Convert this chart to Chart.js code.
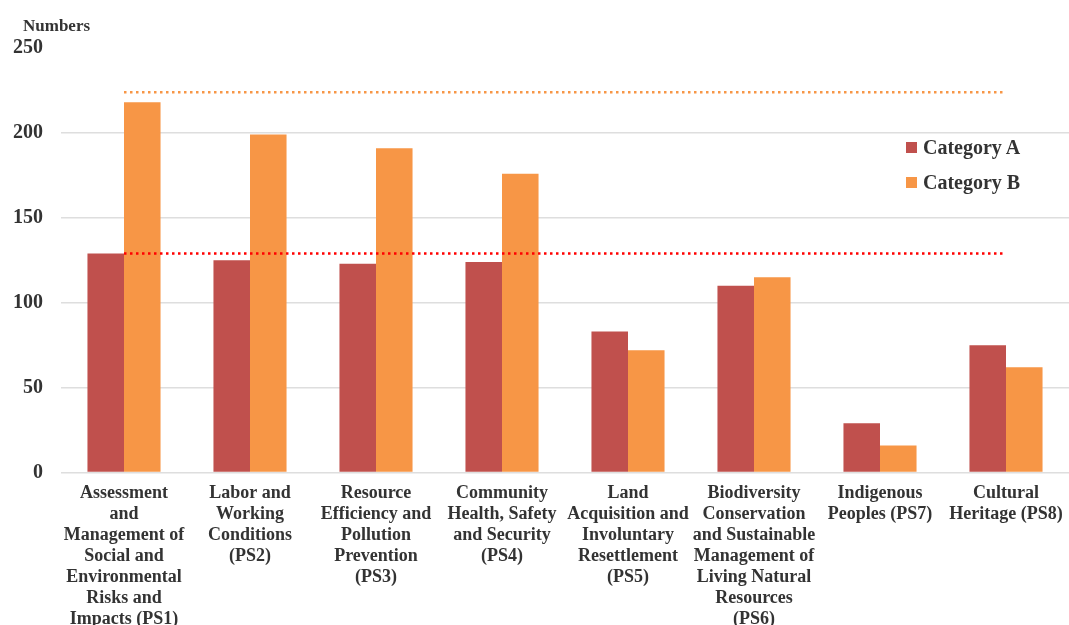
<!DOCTYPE html>
<html>
<head>
<meta charset="utf-8">
<script src="https://cdn.jsdelivr.net/npm/chart.js@4"></script>
<style>
  html, body { margin: 0; padding: 0; background: #fff; overflow: hidden; }
  #wrap { position: relative; width: 1069px; height: 640px; }
  #legend { position: absolute; left: 906px; top: 130px; font: bold 20px "Liberation Serif", serif; color: #333; }
  #legend div { display: flex; align-items: center; height: 35px; }
  #legend span { display: inline-block; width: 11px; height: 11px; margin-right: 6px; }
</style>
</head>
<body>
<div id="wrap">
  <canvas id="chart"></canvas>
  <div id="legend"></div>
</div>
<script>
const categories = [
  ["Assessment", "and", "Management of", "Social and", "Environmental", "Risks and", "Impacts (PS1)"],
  ["Labor and", "Working", "Conditions", "(PS2)"],
  ["Resource", "Efficiency and", "Pollution", "Prevention", "(PS3)"],
  ["Community", "Health, Safety", "and Security", "(PS4)"],
  ["Land", "Acquisition and", "Involuntary", "Resettlement", "(PS5)"],
  ["Biodiversity", "Conservation", "and Sustainable", "Management of", "Living Natural", "Resources", "(PS6)"],
  ["Indigenous", "Peoples (PS7)"],
  ["Cultural", "Heritage (PS8)"]
];
const categoryA = [129, 125, 123, 124, 83, 110, 29, 75];
const categoryB = [218, 199, 191, 176, 72, 115, 16, 62];
const upperLine = [224, 224, 224, 224, 224, 224, 224, 224];
const lowerLine = [129, 129, 129, 129, 129, 129, 129, 129];
const yTicks = [0, 50, 100, 150, 200, 250];

const COLOR_A = '#C0504D';
const COLOR_B = '#F79646';
const TEXT = '#333333';

const legendBox = document.getElementById('legend');
[['Category A', COLOR_A], ['Category B', COLOR_B]].forEach(([name, color]) => {
  const row = document.createElement('div');
  row.innerHTML = `<span style="background:${color}"></span>${name}`;
  legendBox.appendChild(row);
});

// "Numbers" caption above the y axis
const axisCaption = {
  id: 'axisCaption',
  afterDraw(chart) {
    const ctx = chart.ctx;
    ctx.save();
    ctx.font = 'bold 17px "Liberation Serif", serif';
    ctx.fillStyle = TEXT;
    ctx.textBaseline = 'middle';
    ctx.fillText('Numbers', 23, chart.chartArea.top - 21);
    ctx.restore();
  }
};

new Chart(document.getElementById('chart'), {
  type: 'bar',
  data: {
    labels: categories,
    datasets: [
      {
        label: 'Upper',
        type: 'line',
        data: upperLine,
        borderColor: COLOR_B,
        borderWidth: 2.5,
        borderDash: [2.5, 3.5],
        pointRadius: 0,
        fill: false,
        order: 0
      },
      {
        label: 'Lower',
        type: 'line',
        data: lowerLine,
        borderColor: '#FF0000',
        borderWidth: 2.5,
        borderDash: [2.5, 3.5],
        pointRadius: 0,
        fill: false,
        order: 0
      },
      {
        label: 'Category A',
        data: categoryA,
        backgroundColor: COLOR_A,
        categoryPercentage: 0.58,
        barPercentage: 1.0,
        order: 1
      },
      {
        label: 'Category B',
        data: categoryB,
        backgroundColor: COLOR_B,
        categoryPercentage: 0.58,
        barPercentage: 1.0,
        order: 1
      }
    ]
  },
  options: {
    responsive: true,
    maintainAspectRatio: false,
    animation: false,
    layout: { padding: { top: 48, left: 13, right: 0, bottom: 0 } },
    plugins: {
      legend: { display: false },
      tooltip: { enabled: false }
    },
    scales: {
      x: {
        grid: { display: false, drawTicks: false },
        border: { display: false },
        afterFit(scale) {
          scale.paddingLeft = 0;
          scale.paddingRight = 0;
        },
        ticks: {
          maxRotation: 0,
          autoSkip: false,
          padding: 10,
          color: TEXT,
          font: { family: '"Liberation Serif", serif', size: 18, weight: 'bold', lineHeight: 1.17 }
        }
      },
      y: {
        min: 0,
        max: 250,
        afterBuildTicks(axis) {
          axis.ticks = yTicks.map(v => ({ value: v }));
        },
        afterFit(scale) {
          scale.width = 48;
        },
        grid: {
          drawTicks: false,
          lineWidth: 1.5,
          color: ctx => ctx.tick && ctx.tick.value === 250 ? 'rgba(0,0,0,0)' : '#dedede'
        },
        border: { display: false },
        ticks: {
          padding: 18,
          color: TEXT,
          font: { family: '"Liberation Serif", serif', size: 20, weight: 'bold' }
        }
      }
    }
  },
  plugins: [axisCaption]
});
</script>
</body>
</html>
